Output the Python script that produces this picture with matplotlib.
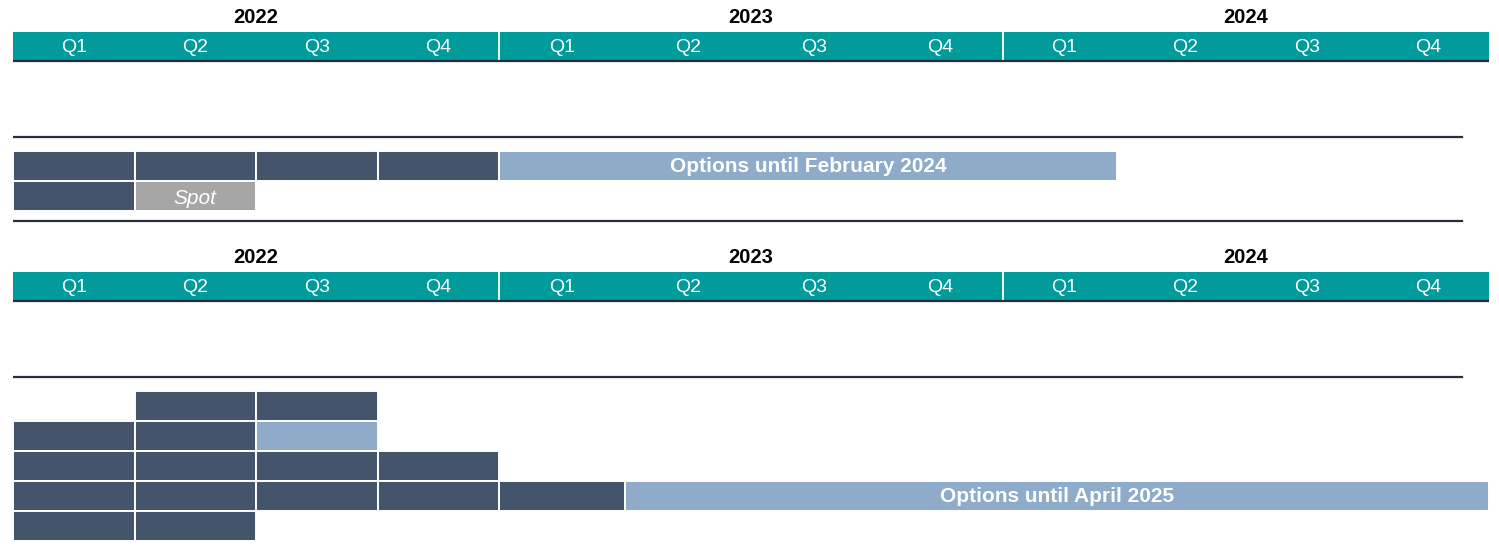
import numpy as np
import matplotlib
matplotlib.use('Agg')
import matplotlib.pyplot as plt

plt.rcParams['font.family'] = ['Liberation Sans', 'DejaVu Sans']

# timeline
years = ['2022', '2023', '2024']
quarters = ['Q1', 'Q2', 'Q3', 'Q4']
# relative width of each year on the timeline (2023 drawn a bit wider)
year_widths = [121.5, 126, 121.5]

# top panel bars: row, start quarter, end quarter (0 = Q1 2022), kind, label
top_rows = [0, 0, 0, 0, 0, 1, 1]
top_start = [0, 1, 2, 3, 4, 0, 1]
top_end = [1, 2, 3, 4, 8.94, 1, 2]
top_kind = ['firm', 'firm', 'firm', 'firm', 'option', 'firm', 'spot']
top_labels = ['', '', '', '', 'Options until February 2024', '', 'Spot']

# bottom panel bars
bot_rows = [0, 0, 1, 1, 1, 2, 2, 2, 2, 3, 3, 3, 3, 3, 3, 4, 4]
bot_start = [1, 2, 0, 1, 2, 0, 1, 2, 3, 0, 1, 2, 3, 4, 5, 0, 1]
bot_end = [2, 3, 1, 2, 3, 1, 2, 3, 4, 1, 2, 3, 4, 5, 12, 1, 2]
bot_kind = ['firm', 'firm', 'firm', 'firm', 'option', 'firm', 'firm', 'firm', 'firm',
            'firm', 'firm', 'firm', 'firm', 'firm', 'option', 'firm', 'firm']
bot_labels = [''] * 14 + ['Options until April 2025', '', '']

colors = {'firm': '#44546a', 'option': '#8eabc9', 'spot': '#a6a6a6'}
TEAL = '#009b9a'
LINE = '#262d3b'

# piecewise linear scale so each year gets its own width
q_edges = np.array([0, 4, 8, 12], dtype=float)
px_edges = np.concatenate([[0], np.cumsum(year_widths)])


def fwd(q):
    return np.interp(q, q_edges, px_edges)


def inv(p):
    return np.interp(p, px_edges, q_edges)


W, H = 1499, 548
fig = plt.figure(figsize=(W / 100, H / 100), dpi=100)
ax = fig.add_axes([13 / W, 0, (1489 - 13) / W, 1])
ax.set_xscale('function', functions=(fwd, inv))
ax.set_xlim(0, 12)
ax.set_ylim(H, 0)
ax.axis('off')


def draw_panel(y0, rows, starts, ends, kinds, labels):
    # year labels
    for i, yr in enumerate(years):
        ax.text(i * 4 + 2, y0 + 17.5, yr, ha='center', va='center',
                fontsize=14.5, fontweight='bold', color='black')
    # teal band with quarter labels
    ax.barh(y0 + 46, 12, left=0, height=28, color=TEAL, edgecolor='none')
    for i in range(12):
        ax.text(i + 0.5, y0 + 48, quarters[i % 4], ha='center', va='center',
                fontsize=14, color='white')
    for b in [4, 8]:
        ax.plot([b, b], [y0 + 32, y0 + 60], color='white', lw=1.3)
    ax.plot([0, 12], [y0 + 60.5, y0 + 60.5], color=LINE, lw=1.6)
    # separator line above the bars
    ax.plot([0, 11.78], [y0 + 137, y0 + 137], color=LINE, lw=1.6)
    # bars
    for r, s, e, k, lab in zip(rows, starts, ends, kinds, labels):
        yc = y0 + 166 + 30 * r
        ax.barh(yc, e - s, left=s, height=29.5, color=colors[k],
                edgecolor='white', lw=1.4)
        if lab:
            xc = inv((fwd(s) + fwd(e)) / 2)
            if k == 'spot':
                ax.text(xc, yc + 2.5, lab, ha='center', va='center', fontsize=15,
                        style='italic', color='white')
            else:
                ax.text(xc, yc + 1, lab, ha='center', va='center', fontsize=15,
                        fontweight='bold', color='white')


draw_panel(0, top_rows, top_start, top_end, top_kind, top_labels)
ax.plot([0, 11.78], [221, 221], color=LINE, lw=1.6)
draw_panel(240, bot_rows, bot_start, bot_end, bot_kind, bot_labels)

fig.savefig('out.png', dpi=100)
